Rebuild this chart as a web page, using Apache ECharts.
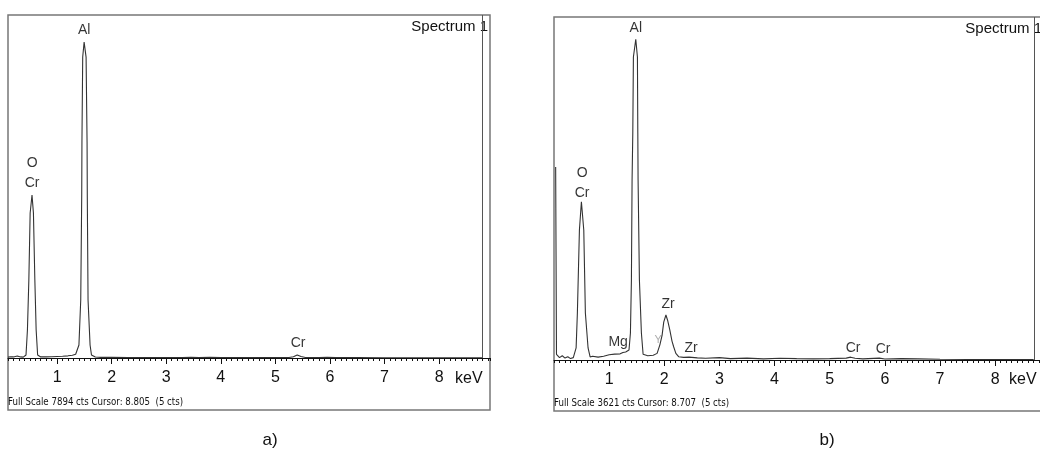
<!DOCTYPE html>
<html>
<head>
<meta charset="utf-8">
<title>EDS spectra</title>
<script src="https://cdn.jsdelivr.net/npm/echarts@6/dist/echarts.min.js"></script>
<style>
    html, body { margin: 0; padding: 0; background: #fff; }
    #chart { width: 1040px; height: 449px; }
</style>
</head>
<body>
<div id="chart"></div>
<script type="text/javascript">
    // spectrum a)
    var fullScaleA = 7894;
    var cursorA = 8.805;
    var keVA = [0.10, 0.15, 0.20, 0.27, 0.33, 0.38, 0.43, 0.456, 0.482, 0.506, 0.54, 0.566, 0.592, 0.616, 0.643,
        0.70, 0.80, 0.90, 1.00, 1.10, 1.20, 1.28, 1.34, 1.37, 1.40, 1.433, 1.451, 1.455, 1.469, 1.495, 1.531,
        1.549, 1.553, 1.567, 1.604, 1.63, 1.70, 1.80, 2.0, 2.3, 2.6, 3.0, 3.3, 3.45, 3.6, 3.8, 4.0, 4.3, 4.6,
        5.0, 5.25, 5.33, 5.40, 5.47, 5.55, 5.8, 5.95, 6.1, 6.5, 7.0, 7.5, 8.0, 8.5, 8.8];
    var ctsA = [20, 30, 25, 45, 25, 20, 69, 644, 1795, 3336, 3751, 3336, 1795, 644, 69,
        25, 25, 28, 35, 40, 50, 62, 85, 120, 299, 1335, 3751, 4970, 6926, 7271, 6926,
        4970, 3751, 1335, 299, 69, 22, 15, 14, 13, 12, 12, 10, 18, 10, 16, 10, 9, 8,
        9, 10, 30, 70, 35, 10, 9, 14, 8, 8, 7, 7, 6, 6, 6];
    // peak labels a): text, keV, cts
    var peaksA = [['Al', 1.495, 7547], ['O', 0.542, 4487], ['Cr', 0.542, 4027], ['Cr', 5.417, 345]];

    // spectrum b)
    var fullScaleB = 3621;
    var cursorB = 8.707;
    var keVB = [0.03, 0.035, 0.045, 0.10, 0.15, 0.20, 0.25, 0.30, 0.35, 0.383, 0.401, 0.424, 0.461, 0.497, 0.540,
        0.569, 0.618, 0.655, 0.70, 0.80, 0.90, 1.00, 1.10, 1.20, 1.25, 1.30, 1.36, 1.386, 1.404, 1.416, 1.429,
        1.44, 1.483, 1.513, 1.52, 1.525, 1.549, 1.585, 1.616, 1.70, 1.80, 1.87, 1.92, 1.96, 1.99, 2.03, 2.06,
        2.10, 2.14, 2.17, 2.21, 2.26, 2.35, 2.45, 2.60, 2.75, 3.0, 3.2, 3.5, 3.8, 4.1, 4.4, 4.7, 5.0, 5.3,
        5.38, 5.46, 5.6, 5.9, 6.0, 6.3, 6.6, 7.0, 7.5, 8.0, 8.5, 8.7];
    var ctsB = [2037, 2037, 60, 25, 45, 20, 35, 15, 25, 32, 127, 496, 1372, 1671, 1372,
        496, 127, 32, 40, 30, 40, 55, 62, 65, 80, 85, 106, 285, 845, 1900, 2396,
        3199, 3386, 3199, 2396, 1900, 845, 285, 60, 45, 50, 70, 160, 260, 400, 475, 420,
        317, 200, 140, 70, 35, 28, 30, 22, 18, 25, 15, 20, 12, 18, 14, 12, 15, 20,
        30, 18, 12, 20, 10, 15, 12, 8, 6, 6, 5, 5];
    var peaksB = [['Al', 1.483, 3505], ['O', 0.51, 1974], ['Cr', 0.51, 1763], ['Mg', 1.163, 190],
        ['Y', 1.888, 211], ['Zr', 2.069, 591], ['Zr', 2.486, 127], ['Cr', 5.424, 127], ['Cr', 5.968, 116]];

    var majorTicks = [1, 2, 3, 4, 5, 6, 7, 8];

    function zip(xs, ys) {
        var out = [];
        for (var i = 0; i < xs.length; i++) out.push([xs[i], ys[i]]);
        return out;
    }

    var font = '"Liberation Sans", Arial, sans-serif';
    var ink = '#111';

    function majorAxis(grid, min, max) {
        return {
            gridIndex: grid, type: 'value', position: 'bottom', min: min, max: max,
            axisLine: {lineStyle: {color: ink, width: 1}},
            axisTick: {customValues: majorTicks, length: 6, lineStyle: {color: ink}},
            axisLabel: {customValues: majorTicks, margin: 12, fontSize: 16, color: ink, fontFamily: font},
            splitLine: {show: false}
        };
    }
    function minorAxis(grid, min, max) {
        return {
            gridIndex: grid, type: 'value', position: 'bottom', min: min, max: max, interval: 0.1,
            axisLine: {show: false},
            axisTick: {length: 3, lineStyle: {color: ink}},
            axisLabel: {show: false},
            splitLine: {show: false}
        };
    }
    function spectrum(idx, data, cursor) {
        return {
            type: 'line', xAxisIndex: idx * 2, yAxisIndex: idx,
            data: data, showSymbol: false, symbol: 'none',
            lineStyle: {color: '#333', width: 1.1},
            markLine: {
                symbol: 'none', silent: true, label: {show: false},
                lineStyle: {color: '#555', width: 1, type: 'solid'},
                data: [{xAxis: cursor}]
            }
        };
    }
    function labels(idx, peaks) {
        return {
            type: 'scatter', xAxisIndex: idx * 2, yAxisIndex: idx,
            symbolSize: 0, itemStyle: {color: '#000'},
            label: {show: true, position: 'inside', formatter: '{b}', fontSize: 14,
                color: '#000', fontFamily: font, textBorderWidth: 0},
            data: peaks.map(function (p) {
                var d = {name: p[0], value: [p[1], p[2]]};
                if (p[0] === 'Y') d.label = {color: '#999', fontSize: 11};
                return d;
            })
        };
    }
    function text(str, x, y, size, align, fam) {
        return {
            type: 'text', x: x, y: y, silent: true,
            style: {text: str, fill: ink, font: size + 'px ' + (fam || font),
                textAlign: align, textVerticalAlign: 'middle', align: align, verticalAlign: 'middle'}
        };
    }

    var chart = echarts.init(document.getElementById('chart'));
    var narrow = '"Liberation Sans Narrow", "DejaVu Sans Condensed", sans-serif';
    var option = {
        animation: false,
        grid: [
            {left: 8, top: 15, width: 482, height: 343},
            {left: 554, top: 17, width: 486, height: 343}
        ],
        xAxis: [majorAxis(0, 0.1, 8.933), minorAxis(0, 0.1, 8.933), majorAxis(1, 0, 8.814), minorAxis(1, 0, 8.814)],
        yAxis: [
            {gridIndex: 0, type: 'value', min: 0, max: fullScaleA, show: false},
            {gridIndex: 1, type: 'value', min: 0, max: fullScaleB, show: false}
        ],
        series: [
            spectrum(0, zip(keVA, ctsA), cursorA),
            labels(0, peaksA),
            spectrum(1, zip(keVB, ctsB), cursorB),
            labels(1, peaksB)
        ],
        graphic: [
            {type: 'rect', silent: true, shape: {x: 8, y: 15, width: 482, height: 395},
                style: {fill: null, stroke: '#777', lineWidth: 1.5}},
            {type: 'rect', silent: true, shape: {x: 554, y: 17, width: 500, height: 394},
                style: {fill: null, stroke: '#777', lineWidth: 1.5}},
            text('Spectrum 1', 488, 27, 15, 'right'),
            text('Spectrum 1', 1042, 29, 15, 'right'),
            text('keV', 455, 379, 16, 'left'),
            text('keV', 1009, 380, 16, 'left'),
            text('Full Scale ' + fullScaleA + ' cts Cursor: ' + cursorA.toFixed(3) + '  (5 cts)', 8, 402, 9.6, 'left', narrow),
            text('Full Scale ' + fullScaleB + ' cts Cursor: ' + cursorB.toFixed(3) + '  (5 cts)', 554, 403, 9.6, 'left', narrow),
            text('a)', 270, 440, 17, 'center'),
            text('b)', 827, 440, 17, 'center')
        ]
    };
    chart.setOption(option);
</script>
</body>
</html>
